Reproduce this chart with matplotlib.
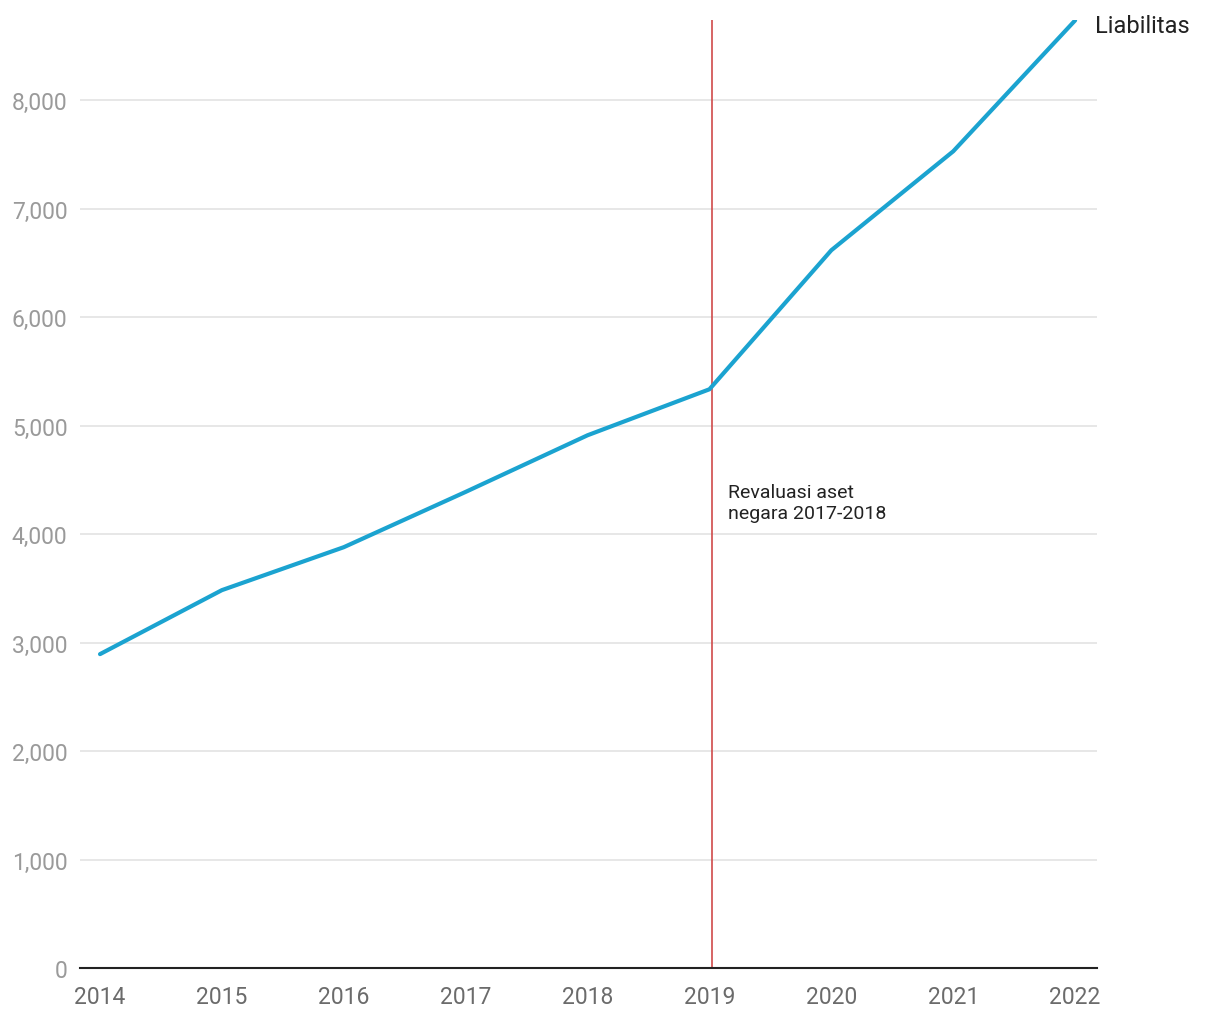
import matplotlib.pyplot as plt
from matplotlib.ticker import FuncFormatter

# Daten
tahun = [2014, 2015, 2016, 2017, 2018, 2019, 2020, 2021, 2022]
liabilitas = [2894, 3484, 3880, 4390, 4912, 5336, 6618, 7530, 8737]
y_ticks = [0, 1000, 2000, 3000, 4000, 5000, 6000, 7000, 8000]
garis_tahun = 2019.02
catatan = 'Revaluasi aset\nnegara 2017-2018'

plt.rcParams['font.family'] = ['Roboto', 'DejaVu Sans']

fig = plt.figure(figsize=(12.2, 10.2), dpi=100)
ax = fig.add_axes([0.0656, 0.05, 0.8336, 0.929])

ax.plot(tahun, liabilitas, color='#1ba3d0', linewidth=3, solid_capstyle='round', zorder=3)
ax.axvline(garis_tahun, color='#d04a4a', linewidth=1.2, zorder=2)

ax.set_xlim(2013.836, 2022.18)
ax.set_ylim(0, max(liabilitas))

# Gitterlinien
ax.set_yticks(y_ticks)
ax.yaxis.set_major_formatter(FuncFormatter(lambda v, p: f'{int(v):,}'))
ax.grid(axis='y', color='#e3e3e3', linewidth=1.2)
ax.set_axisbelow(True)
ax.set_xticks(tahun)

for s in ['top', 'right', 'left']:
    ax.spines[s].set_visible(False)
ax.spines['bottom'].set_color('#222222')
ax.spines['bottom'].set_linewidth(1.5)

ax.tick_params(axis='y', length=0, labelsize=16.5, labelcolor='#9a9a9a', pad=9)
ax.tick_params(axis='x', length=0, labelsize=16.5, labelcolor='#6b6b6b', pad=12)

ax.text(garis_tahun + 0.13, 4290, catatan, fontsize=14, color='#222222',
        va='center', ha='left', linespacing=1.25)
ax.text(tahun[-1] + 0.16, liabilitas[-1] - 50, 'Liabilitas', fontsize=17,
        color='#222222', va='center', ha='left', clip_on=False)

fig.savefig('out.png', dpi=100)
